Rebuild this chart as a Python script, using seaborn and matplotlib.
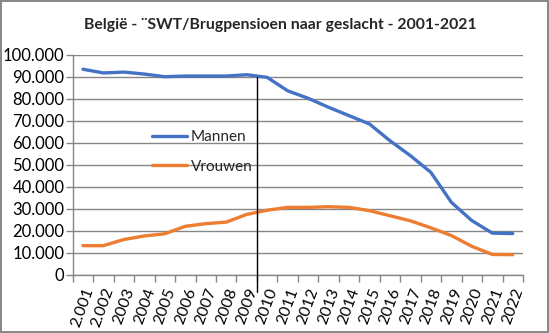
import matplotlib
matplotlib.use("Agg")
import matplotlib.pyplot as plt
from matplotlib.ticker import FuncFormatter, FixedLocator
import seaborn as sns
import pandas as pd
import numpy as np

labels = ["2.001", "2.002", "2003", "2004", "2005", "2006", "2007", "2008", "2009",
          "2010", "2011", "2012", "2013", "2014", "2015", "2016", "2017", "2018",
          "2019", "2020", "2021", "2022"]
mannen = [93400, 91700, 92100, 91200, 90000, 90300, 90300, 90300, 90900,
          89700, 83600, 80200, 76100, 72300, 68500, 60900, 54100, 46500,
          32900, 24600, 18900, 18700]
vrouwen = [13200, 13200, 16000, 17600, 18600, 22000, 23200, 23900, 27400,
           29300, 30600, 30600, 30900, 30600, 29100, 26800, 24500, 21300,
           17800, 12900, 9200, 9100]
series_names = ["Mannen", "Vrouwen"]
colors = ["#4472C4", "#ED7D31"]
title = "België - ¨SWT/Brugpensioen naar geslacht - 2001-2021"

sns.set_theme(style="white")
plt.rcParams['font.family'] = ['Lato', 'DejaVu Sans']

df = pd.DataFrame({
    "idx": list(range(len(labels))) * 2,
    "value": mannen + vrouwen,
    "Geslacht": [series_names[0]] * len(labels) + [series_names[1]] * len(labels),
})

fig = plt.figure(figsize=(5.49, 3.33), dpi=100)
fig.patch.set_edgecolor("#898989")
fig.patch.set_linewidth(1.5)
ax = fig.add_axes([72.7 / 549, 1 - 274.7 / 333, (523 - 72.7) / 549, (274.7 - 54.7) / 333])

sns.lineplot(data=df, x="idx", y="value", hue="Geslacht", palette=colors,
             linewidth=2.4, ax=ax, legend=True)

n = len(labels)
ax.set_xlim(-0.5, n - 0.5)
ax.set_ylim(0, 100000)
ax.set_yticks(np.arange(0, 100001, 10000))
ax.yaxis.set_major_formatter(FuncFormatter(lambda v, p: f"{int(v):,}".replace(",", ".")))
ax.grid(axis="y", color="#868686", linewidth=1.0)
ax.set_axisbelow(True)

ax.set_xticks(range(n))
ax.set_xticklabels(labels, rotation=70, ha="right", rotation_mode="anchor")
ax.xaxis.set_minor_locator(FixedLocator(np.arange(-0.5, n, 1.0)))
ax.tick_params(axis="x", which="major", length=0, pad=8, labelsize=11.5, colors="black")
ax.tick_params(axis="x", which="minor", length=5, width=1, color="#868686", bottom=True)
ax.tick_params(axis="y", which="major", length=5, width=1, color="#868686", left=True,
               pad=1, labelsize=12, labelcolor="black")
ax.set_xlabel("")
ax.set_ylabel("")

for s in ["top", "right"]:
    ax.spines[s].set_visible(False)
for s in ["left", "bottom"]:
    ax.spines[s].set_color("#868686")
    ax.spines[s].set_linewidth(1.0)

ax.plot([8.5, 8.5], [90000, -8000], color="black", linewidth=1.0, clip_on=False, zorder=5)

leg = ax.legend(loc="center left", bbox_to_anchor=(0.176, 0.558), frameon=False,
                handlelength=2.3, handletextpad=0.25, labelspacing=1.0, borderpad=0,
                borderaxespad=0, fontsize=11)
for line in leg.get_lines():
    line.set_linewidth(2.4)

fig.text(280 / 549, 1 - 25 / 333, title, ha="center", va="center",
         fontsize=11.3, fontweight="bold")

fig.savefig("out.png", dpi=100)
